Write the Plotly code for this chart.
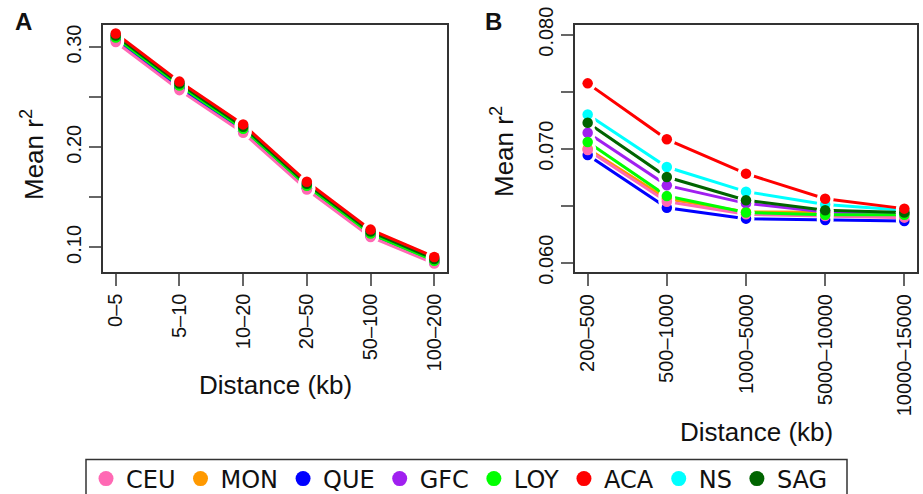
import plotly.graph_objects as go

# ---------------- data ----------------
series = ["CEU", "MON", "QUE", "GFC", "LOY", "ACA", "NS", "SAG"]
colors = {"CEU": "#FF69B4", "MON": "#FF9900", "QUE": "#0000FF", "GFC": "#A020F0",
          "LOY": "#00FF00", "ACA": "#FF0000", "NS": "#00FFFF", "SAG": "#006400"}

cats_a = ["0–5", "5–10", "10–20", "20–50", "50–100", "100–200"]
cats_b = ["200–500", "500–1000", "1000–5000", "5000–10000", "10000–15000"]

a_ACA = [0.3135, 0.2655, 0.2228, 0.1655, 0.1178, 0.0905]
a_NS  = [0.3125, 0.2645, 0.2218, 0.1645, 0.1168, 0.0895]
a_SAG = [0.3115, 0.2635, 0.2205, 0.1635, 0.1158, 0.0885]
a_GFC = [0.3105, 0.2625, 0.2195, 0.1625, 0.1148, 0.0875]
a_LOY = [0.3095, 0.2615, 0.2185, 0.1615, 0.1138, 0.0868]
a_MON = [0.3085, 0.2605, 0.2175, 0.1605, 0.1128, 0.0860]
a_QUE = [0.3070, 0.2590, 0.2160, 0.1590, 0.1115, 0.0850]
a_CEU = [0.3050, 0.2570, 0.2145, 0.1578, 0.1105, 0.0840]

b_ACA = [0.07573, 0.07082, 0.06781, 0.06561, 0.06474]
b_NS  = [0.07300, 0.06839, 0.06623, 0.06511, 0.06460]
b_SAG = [0.07228, 0.06751, 0.06547, 0.06460, 0.06440]
b_GFC = [0.07140, 0.06678, 0.06520, 0.06445, 0.06430]
b_LOY = [0.07058, 0.06584, 0.06440, 0.06420, 0.06420]
b_MON = [0.07000, 0.06560, 0.06444, 0.06439, 0.06439]
b_CEU = [0.06988, 0.06535, 0.06424, 0.06409, 0.06395]
b_QUE = [0.06944, 0.06482, 0.06386, 0.06374, 0.06365]

data_a = {"CEU": a_CEU, "MON": a_MON, "QUE": a_QUE, "GFC": a_GFC,
          "LOY": a_LOY, "ACA": a_ACA, "NS": a_NS, "SAG": a_SAG}
data_b = {"CEU": b_CEU, "MON": b_MON, "QUE": b_QUE, "GFC": b_GFC,
          "LOY": b_LOY, "ACA": b_ACA, "NS": b_NS, "SAG": b_SAG}

yticks_a = [0.10, 0.20, 0.30]
yticklabels_a = ["0.10", "0.20", "0.30"]
yminor_a = [0.15, 0.25]
yticks_b = [0.060, 0.070, 0.080]
yticklabels_b = ["0.060", "0.070", "0.080"]
yminor_b = [0.065, 0.075]

draw_order = ["MON", "QUE", "CEU", "GFC", "LOY", "NS", "SAG", "ACA"]

# ---------------- figure ----------------
fig = go.Figure()
W, H = 923, 494
FONT = "Liberation Sans, Arial, sans-serif"

panels = [("x", "y", cats_a, data_a), ("x2", "y2", cats_b, data_b)]
for xa, ya, cats, data in panels:
    idx = list(range(len(cats)))
    for s in draw_order:
        fig.add_trace(go.Scatter(x=idx, y=data[s], mode="lines", xaxis=xa, yaxis=ya,
                                 line=dict(color=colors[s], width=3), showlegend=False,
                                 hoverinfo="skip"))
    for s in draw_order:
        fig.add_trace(go.Scatter(x=idx, y=data[s], mode="markers", xaxis=xa, yaxis=ya,
                                 marker=dict(color="white", size=17, line=dict(width=0)),
                                 showlegend=False, hoverinfo="skip"))
    for s in draw_order:
        fig.add_trace(go.Scatter(x=idx, y=data[s], mode="markers", xaxis=xa, yaxis=ya,
                                 marker=dict(color=colors[s], size=10.5, line=dict(width=0)),
                                 name=s, showlegend=False))

# legend-only entries
for i, s in enumerate(series):
    fig.add_trace(go.Scatter(x=[None], y=[None], mode="markers", name=s,
                             marker=dict(color=colors[s], size=15), legendrank=i + 1,
                             showlegend=True))

axis_common = dict(showline=True, mirror=True, linecolor="#333333", linewidth=2,
                   ticks="outside", ticklen=12, tickwidth=1.5, tickcolor="#666666",
                   showgrid=False, zeroline=False, automargin=False,
                   tickfont=dict(family=FONT, size=20, color="#111111"))
minor_common = dict(ticks="outside", ticklen=12, tickwidth=1.5, tickcolor="#666666", showgrid=False)

fig.update_layout(
    width=W, height=H,
    margin=dict(l=0, r=0, t=0, b=0, autoexpand=False),
    plot_bgcolor="white", paper_bgcolor="white",
    xaxis=dict(domain=[103 / W, 447 / W], range=[-0.2, 5.2], tickmode="array",
               tickvals=list(range(len(cats_a))), ticktext=cats_a, tickangle=-90,
               anchor="y", **axis_common),
    yaxis=dict(domain=[1 - 271.5 / H, 1 - 25 / H], range=[0.076, 0.322], tickmode="array",
               tickvals=yticks_a, ticktext=yticklabels_a, tickangle=-90,
               minor=dict(tickmode="array", tickvals=yminor_a, **minor_common),
               anchor="x", **axis_common),
    xaxis2=dict(domain=[575 / W, 917 / W], range=[-0.16, 4.16], tickmode="array",
                tickvals=list(range(len(cats_b))), ticktext=cats_b, tickangle=-90,
                anchor="y2", **axis_common),
    yaxis2=dict(domain=[1 - 272 / H, 1 - 25 / H], range=[0.05918, 0.08085], tickmode="array",
                tickvals=yticks_b, ticktext=yticklabels_b, tickangle=-90,
                minor=dict(tickmode="array", tickvals=yminor_b, **minor_common),
                anchor="x2", **axis_common),
    legend=dict(orientation="h", x=86 / W, y=1 - 456.5 / H, xanchor="left", yanchor="top",
                borderwidth=0, bgcolor="rgba(0,0,0,0)",
                font=dict(family="DejaVu Sans, sans-serif", size=24, color="#111111"),
                itemsizing="trace", tracegroupgap=0),
    showlegend=True,
)

# legend frame
fig.add_shape(type="rect", xref="paper", yref="paper", x0=86 / W, x1=847 / W,
              y0=-0.05, y1=1 - 459.5 / H, line=dict(color="#333333", width=1.5),
              fillcolor="rgba(0,0,0,0)", layer="below")

ann_font = dict(family=FONT, size=26, color="#111111")
fig.add_annotation(text="Mean r<sup>2</sup>", x=32 / W, y=1 - 155 / H, xref="paper", yref="paper",
                   textangle=-90, showarrow=False, font=ann_font, xanchor="center", yanchor="middle")
fig.add_annotation(text="Mean r<sup>2</sup>", x=502 / W, y=1 - 152 / H, xref="paper", yref="paper",
                   textangle=-90, showarrow=False, font=ann_font, xanchor="center", yanchor="middle")
fig.add_annotation(text="Distance (kb)", x=275.7 / W, y=1 - 385 / H, xref="paper", yref="paper",
                   showarrow=False, font=ann_font, xanchor="center", yanchor="middle")
fig.add_annotation(text="Distance (kb)", x=756.7 / W, y=1 - 431.7 / H, xref="paper", yref="paper",
                   showarrow=False, font=ann_font, xanchor="center", yanchor="middle")
lab_font = dict(family=FONT, size=24, color="#111111", weight="bold")
fig.add_annotation(text="<b>A</b>", x=23 / W, y=1 - 21 / H, xref="paper", yref="paper",
                   showarrow=False, font=lab_font, xanchor="center", yanchor="middle")
fig.add_annotation(text="<b>B</b>", x=494 / W, y=1 - 21 / H, xref="paper", yref="paper",
                   showarrow=False, font=lab_font, xanchor="center", yanchor="middle")

fig.write_html("out.html")
